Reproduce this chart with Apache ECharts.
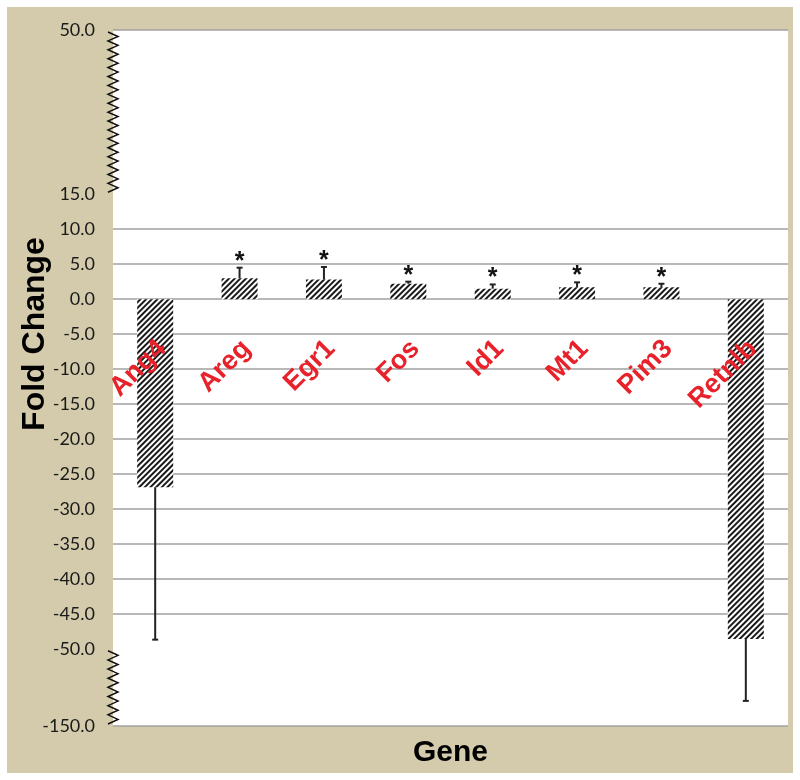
<!DOCTYPE html>
<html>
<head>
<meta charset="utf-8">
<script src="https://cdn.jsdelivr.net/npm/echarts@6/dist/echarts.min.js"></script>
<style>
  html, body { margin: 0; padding: 0; background: #fff; }
  #chart { position: absolute; left: 7px; top: 7px; width: 786px; height: 766px; }
</style>
</head>
<body>
<div id="chart"></div>
<script>
// values
const genes = ['Ang4', 'Areg', 'Egr1', 'Fos', 'Id1', 'Mt1', 'Pim3', 'Retnlb'];
const foldChange = [-26.9, 3.0, 2.8, 2.2, 1.5, 1.7, 1.7, -48.6];
const errorEnd = [-48.7, 4.5, 4.6, 2.5, 2.1, 2.4, 2.2, -117.5];
const significant = ['', '*', '*', '*', '*', '*', '*', ''];
const yRange = [-150, 50];
const axisBreaks = [
  { start: 15, end: 50, gap: '23.6%' },
  { start: -150, end: -50, gap: '11.1%' }
];

const chart = echarts.init(document.getElementById('chart'));

const font = '"Liberation Sans", Arial, sans-serif';
const labelAnchor = -6.5;

const option = {
  backgroundColor: '#d3cbab',
  animation: false,
  grid: {
    left: 106,
    top: 23,
    right: 5,
    bottom: 47,
    show: true,
    backgroundColor: '#fff',
    borderWidth: 0,
    outerBoundsMode: 'none'
  },
  graphic: [
    {
      type: 'text',
      x: 28,
      y: 327,
      rotation: Math.PI / 2,
      style: {
        text: 'Fold Change',
        font: 'bold 32px ' + font,
        fill: '#000',
        align: 'center',
        verticalAlign: 'middle'
      }
    }
  ],
  xAxis: {
    type: 'category',
    data: genes,
    name: 'Gene',
    nameLocation: 'middle',
    nameGap: 12,
    nameTextStyle: { fontFamily: font, fontWeight: 'bold', fontSize: 30, color: '#000' },
    axisLine: { show: false },
    axisTick: { show: false },
    axisLabel: { show: false }
  },
  yAxis: {
    type: 'value',
    min: yRange[0],
    max: yRange[1],
    interval: 5,
    breaks: axisBreaks,
    breakArea: { show: false },
    axisLine: { show: false },
    axisTick: { show: false },
    axisLabel: {
      color: '#1a1a1a',
      fontFamily: 'Lato',
      fontSize: 18,
      margin: 18,
      formatter: v => v.toFixed(1)
    },
    splitLine: { lineStyle: { color: '#a0a0a0', width: 1.5 } }
  },
  series: [
    {
      type: 'bar',
      data: foldChange,
      barWidth: 36,
      itemStyle: {
        color: '#fff',
        decal: {
          symbol: 'rect',
          symbolSize: 1,
          color: '#1a1a1a',
          backgroundColor: '#fff',
          dashArrayX: [1, 0],
          dashArrayY: [1.3, 1.5],
          rotation: -Math.PI / 4
        }
      },
      z: 2
    },
    {
      // error bars + significance marks
      type: 'custom',
      data: genes.map((g, i) => [i, foldChange[i], errorEnd[i]]),
      encode: { x: 0, y: [1, 2] },
      z: 3,
      renderItem(params, api) {
        const base = api.coord([api.value(0), api.value(1)]);
        const tip = api.coord([api.value(0), api.value(2)]);
        const stroke = { stroke: '#222', lineWidth: 2 };
        const children = [
          { type: 'line', shape: { x1: base[0], y1: base[1], x2: tip[0], y2: tip[1] }, style: stroke },
          { type: 'line', shape: { x1: tip[0] - 3, y1: tip[1], x2: tip[0] + 3, y2: tip[1] }, style: stroke }
        ];
        const mark = significant[params.dataIndex];
        if (mark) {
          children.push({
            type: 'text',
            x: tip[0],
            y: tip[1] - 6,
            style: { text: mark, font: 'bold 25px ' + font, fill: '#111', align: 'center', verticalAlign: 'middle' }
          });
        }
        return { type: 'group', children };
      }
    },
    {
      // gene names written inside the plot
      type: 'custom',
      data: genes.map((g, i) => [i]),
      encode: { x: 0 },
      z: 4,
      renderItem(params, api) {
        const p = api.coord([api.value(0), labelAnchor]);
        return {
          type: 'text',
          x: p[0] + 7,
          y: p[1],
          rotation: Math.PI / 4,
          style: {
            text: genes[params.dataIndex],
            font: 'bold 27px ' + font,
            fill: '#e8222a',
            align: 'right',
            verticalAlign: 'middle'
          }
        };
      }
    },
    {
      // zigzag on the axis where it is broken
      type: 'custom',
      data: axisBreaks.map(b => [0, b.start, b.end]),
      encode: { x: 0, y: [1, 2] },
      clip: false,
      z: 5,
      renderItem(params, api) {
        const x = params.coordSys.x;
        const yTop = api.coord([0, api.value(2)])[1] + 2;
        const yBot = api.coord([0, api.value(1)])[1] - 2;
        const n = Math.max(2, Math.round((yBot - yTop) / 9));
        const step = (yBot - yTop) / n;
        const points = [];
        for (let k = 0; k <= n * 2; k++) {
          points.push([k % 2 === 0 ? x - 5 : x + 5, yTop + (k * step) / 2]);
        }
        return {
          type: 'polyline',
          shape: { points },
          style: { stroke: '#111', lineWidth: 1.5, fill: null }
        };
      }
    }
  ]
};

chart.setOption(option);
</script>
</body>
</html>
